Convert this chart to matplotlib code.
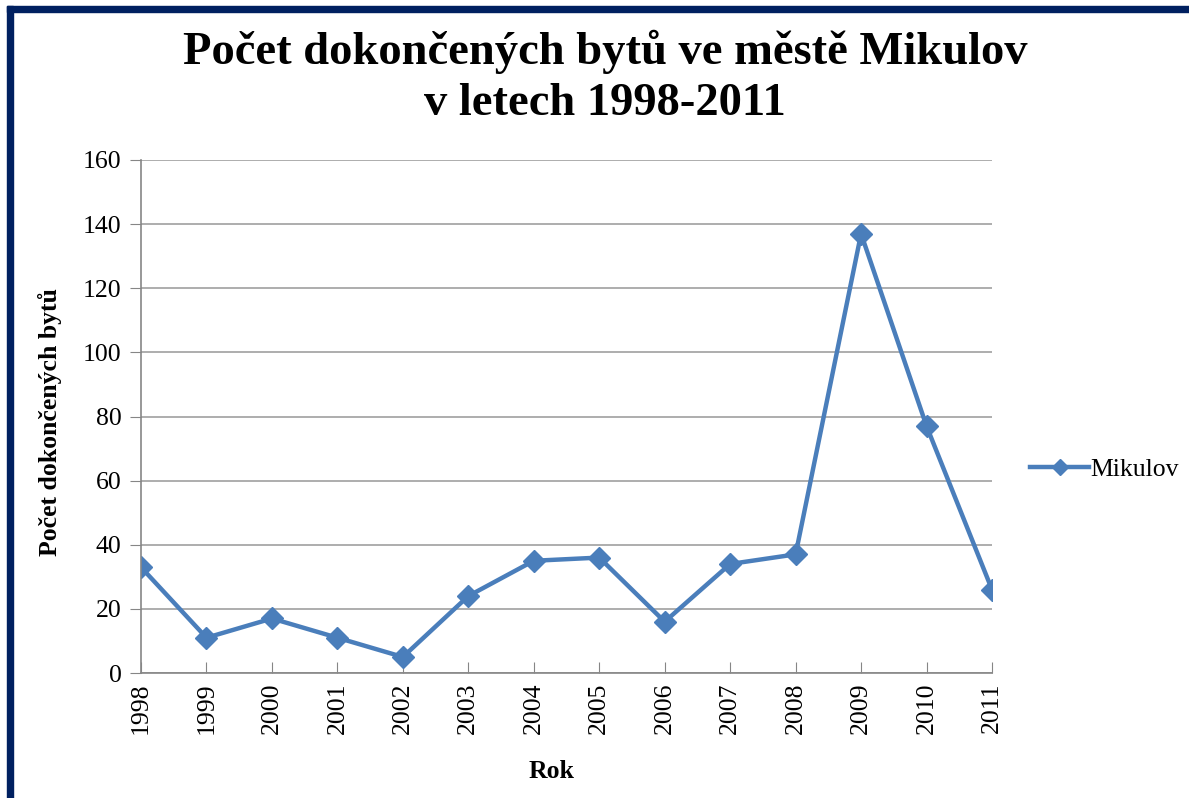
import numpy as np
import matplotlib
matplotlib.use('Agg')
from matplotlib import pyplot as plt
from matplotlib.patches import Rectangle

years = ['1998', '1999', '2000', '2001', '2002', '2003', '2004',
         '2005', '2006', '2007', '2008', '2009', '2010', '2011']
flats = [33, 11, 17, 11, 5, 24, 35, 36, 16, 34, 37, 137, 77, 26]
yticks = [0, 20, 40, 60, 80, 100, 120, 140, 160]

plt.rcParams['font.family'] = ['Liberation Serif', 'DejaVu Serif']

fig = plt.figure(figsize=(11.89, 7.98), dpi=100)
ax = fig.add_axes([141 / 1189, 1 - 673 / 798, 851 / 1189, 513 / 798])

x = np.arange(len(years))
ax.plot(x, flats, color='#4a7ebb', lw=3.2, marker='D', ms=11,
        label='Mikulov', solid_joinstyle='round')

ax.set_xlim(0, len(years) - 1)
ax.set_ylim(0, 160)
ax.set_yticks(yticks)
ax.set_xticks(x)
ax.set_xticklabels(years, rotation=90, fontsize=18.5)
ax.tick_params(axis='y', labelsize=18.5, direction='out', length=8,
               color='#868686', pad=6)
ax.tick_params(axis='x', direction='in', length=8, color='#868686', pad=7)
ax.grid(axis='y', color='#a0a0a0', lw=1.2)
ax.set_axisbelow(True)
for s in ['top', 'right']:
    ax.spines[s].set_visible(False)
for s in ['left', 'bottom']:
    ax.spines[s].set_color('#868686')
    ax.spines[s].set_linewidth(1.2)

ax.set_xlabel('Rok', fontsize=18.5, fontweight='bold', va='center')
ax.xaxis.set_label_coords(0.482, -0.192)
ax.set_ylabel('Počet dokončených bytů', fontsize=18.5, fontweight='bold',
              va='center')
ax.yaxis.set_label_coords(-0.107, 0.489)

fig.text(0.509, 1 - 77 / 798, 'Počet dokončených bytů ve městě Mikulov\nv letech 1998-2011',
         ha='center', va='center', fontsize=33.5, fontweight='bold',
         linespacing=1.28)

leg = ax.legend(loc='center left', bbox_to_anchor=(1.033, 0.396), frameon=False,
                fontsize=18.5, handlelength=2.3, handletextpad=0.05,
                borderaxespad=0, markerscale=0.75)

# dark frame on the left and top edge
fig.patches.append(Rectangle((7 / 1189, 0), 6 / 1189, 1 - 6 / 798,
                             transform=fig.transFigure, color='#002060'))
fig.patches.append(Rectangle((7 / 1189, 1 - 12 / 798), 1, 6 / 798,
                             transform=fig.transFigure, color='#002060'))

fig.savefig('out.png', dpi=100)
